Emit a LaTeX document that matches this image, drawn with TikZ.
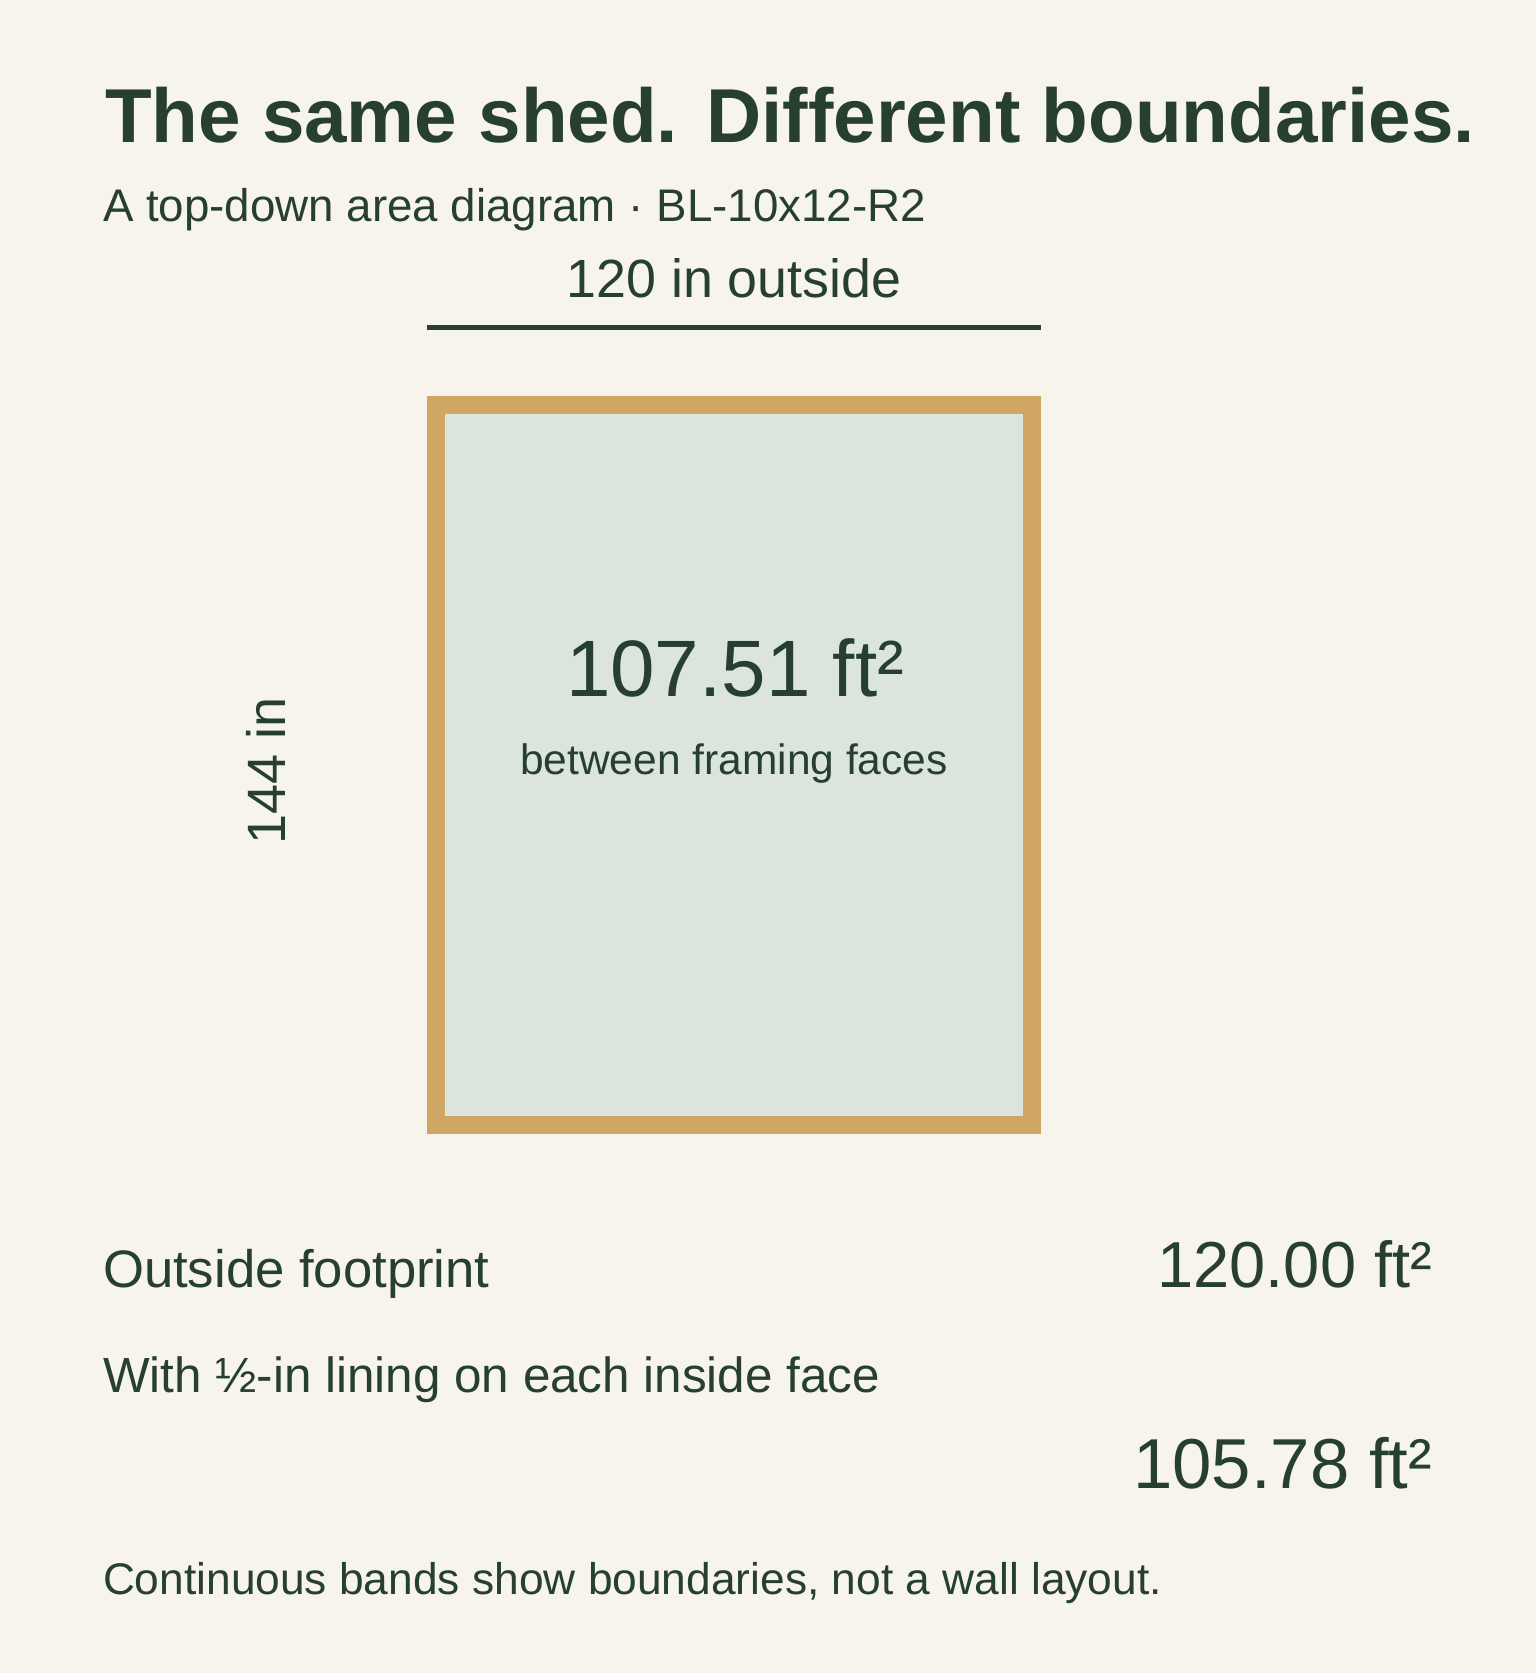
\documentclass[tikz,border=0pt]{standalone}
\usepackage{fontspec}
\setmainfont{Liberation Sans}
\definecolor{bg}{HTML}{F7F4EC}
\definecolor{ink}{HTML}{263F31}
\definecolor{band}{HTML}{D0A665}
\definecolor{innerfill}{HTML}{DCE5DC}
\newcommand{\fsz}[1]{\fontsize{#1}{#1}\selectfont}
\begin{document}
\begin{tikzpicture}[x=1pt,y=-1pt,
  txt/.style={inner sep=0pt, outer sep=0pt, text=ink},
  bandrect/.style={draw=band, line width=18pt, fill=innerfill},
  dimline/.style={draw=ink, line width=5pt}]
\fill[bg] (0,0) rectangle (1536,1673);
\useasboundingbox (0,0) rectangle (1536,1673);

\node[txt, anchor=base west, font=\fsz{76.4}\bfseries] (title) at (105,142) {The same shed. Different boundaries.};
\node[txt, anchor=base west, font=\fsz{45.7}] (sub) at (103,221) {A top-down area diagram · BL-10x12-R2};

\node[txt, anchor=base, font=\fsz{53.8}] (top) at (734,297) {120 in outside};
\coordinate (dl) at (427,327.5);
\coordinate (dr) at (1041,327.5);
\draw[dimline] (dl) -- (dr);

\draw[bandrect] (436,405) rectangle (1032,1124.5);

\node[txt, anchor=base, font=\fsz{80}] (area) at (735,696) {107.51 ft²};
\node[txt, anchor=base, font=\fsz{42.5}] (areasub) at (734,774) {between framing faces};

\node[txt, anchor=base, rotate=90, font=\fsz{54}] (side) at (285,771) {144 in};

\node[txt, anchor=base west, font=\fsz{52.7}] (l1) at (103,1287) {Outside footprint};
\node[txt, anchor=base east, font=\fsz{65}] (v1) at (1432,1287) {120.00 ft²};
\node[txt, anchor=base west, font=\fsz{49.4}] (l2) at (103,1392) {With ½-in lining on each inside face};
\node[txt, anchor=base east, font=\fsz{70.7}] (v2) at (1432,1488) {105.78 ft²};
\node[txt, anchor=base west, font=\fsz{44.3}] (note) at (103,1594) {Continuous bands show boundaries, not a wall layout.};
\end{tikzpicture}
\end{document}
